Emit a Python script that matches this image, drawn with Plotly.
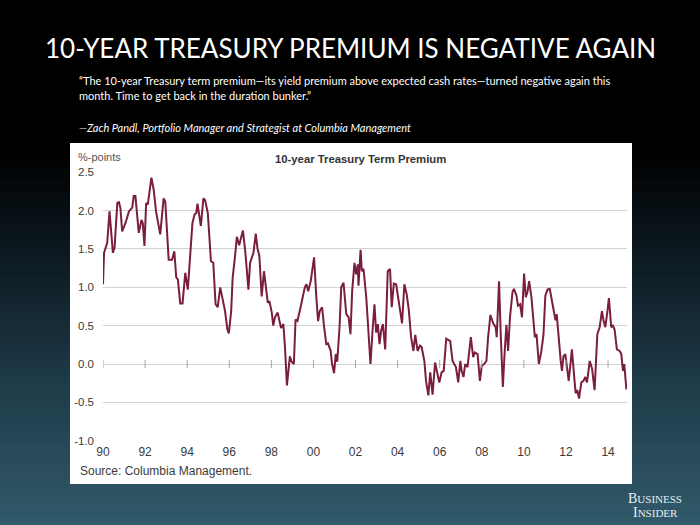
import plotly.graph_objects as go

# ---- data (decimal year, %-points) ----
years = [
    1990.00, 1990.05, 1990.20, 1990.31, 1990.47, 1990.55, 1990.68, 1990.76, 1990.83, 1990.91,
    1991.07, 1991.23, 1991.39, 1991.46, 1991.54, 1991.62, 1991.70, 1991.83, 1991.89, 1991.97,
    1992.05, 1992.13, 1992.30, 1992.41, 1992.52, 1992.72, 1992.88, 1992.96, 1993.12, 1993.28,
    1993.39, 1993.48, 1993.56, 1993.67, 1993.78, 1993.91, 1994.03, 1994.25, 1994.35, 1994.43,
    1994.49, 1994.65, 1994.77, 1994.85, 1994.98, 1995.13, 1995.24, 1995.35, 1995.45, 1995.57,
    1995.72, 1995.80, 1995.91, 1995.98,
    1996.09, 1996.16, 1996.28, 1996.36, 1996.47, 1996.65, 1996.76, 1996.91, 1996.99, 1997.15,
    1997.26, 1997.34, 1997.43, 1997.54, 1997.65, 1997.75, 1997.83, 1997.91, 1998.02, 1998.09,
    1998.17, 1998.30, 1998.38, 1998.46, 1998.57, 1998.65, 1998.74, 1998.88, 1998.96, 1999.07,
    1999.15, 1999.24, 1999.35, 1999.46, 1999.59, 1999.67, 1999.75, 1999.87, 1999.95, 2000.03,
    2000.14, 2000.22, 2000.30, 2000.41, 2000.50, 2000.61, 2000.69, 2000.82, 2000.88, 2000.98,
    2001.06, 2001.13, 2001.24, 2001.32, 2001.43, 2001.56, 2001.67, 2001.76, 2001.84, 2001.95,
    2002.03, 2002.11, 2002.14, 2002.24, 2002.30, 2002.38, 2002.51, 2002.62, 2002.71, 2002.82,
    2002.90, 2002.98, 2003.06, 2003.14, 2003.22, 2003.30, 2003.41, 2003.53, 2003.64, 2003.72,
    2003.82, 2003.93, 2004.04, 2004.13, 2004.21, 2004.32, 2004.43, 2004.53, 2004.64, 2004.75,
    2004.84, 2004.95, 2005.06, 2005.14, 2005.27, 2005.35, 2005.46, 2005.55, 2005.66, 2005.78,
    2005.90, 2005.98, 2006.09, 2006.19, 2006.31, 2006.42, 2006.50, 2006.61, 2006.69, 2006.77,
    2006.88, 2006.98, 2007.04, 2007.13, 2007.21, 2007.32, 2007.48, 2007.59, 2007.67, 2007.80,
    2007.91, 2008.00, 2008.11, 2008.22,
    2008.30, 2008.41, 2008.54, 2008.66, 2008.71, 2008.82, 2008.90, 2009.00, 2009.09, 2009.17,
    2009.25, 2009.34, 2009.46, 2009.53, 2009.65, 2009.72, 2009.82, 2009.91, 2010.01, 2010.09,
    2010.17, 2010.25, 2010.36, 2010.44, 2010.52, 2010.60, 2010.71, 2010.83, 2010.93, 2011.02,
    2011.12, 2011.23, 2011.31, 2011.42, 2011.50, 2011.56, 2011.65, 2011.75, 2011.81, 2011.88,
    2011.97, 2012.05, 2012.13, 2012.22, 2012.28, 2012.38, 2012.46, 2012.54, 2012.62, 2012.73,
    2012.83, 2012.92, 2013.00, 2013.13, 2013.24, 2013.36, 2013.49, 2013.60, 2013.71, 2013.79,
    2013.87, 2013.97, 2014.04, 2014.15, 2014.23, 2014.31, 2014.42, 2014.55, 2014.63, 2014.71,
    2014.77, 2014.87,
]
premium = [
    1.04, 1.45, 1.58, 1.99, 1.45, 1.52, 2.10, 2.11, 2.03, 1.73,
    1.84, 1.99, 2.04, 2.19, 2.19, 1.99, 1.71, 1.88, 1.84, 1.54,
    2.10, 2.08, 2.43, 2.27, 1.99, 1.69, 2.16, 2.12, 1.36, 1.36,
    1.47, 1.13, 1.10, 0.79, 0.79, 1.19, 0.97, 1.84, 1.95, 1.97,
    2.09, 1.80, 2.16, 2.14, 1.97, 1.34, 1.32, 0.78, 0.74, 1.00,
    0.82, 0.69, 0.45, 0.40,
    0.69, 1.12, 1.42, 1.66, 1.55, 1.74, 1.47, 0.97, 1.32, 1.45,
    1.70, 1.51, 1.41, 0.88, 1.21, 1.00, 0.80, 0.82, 0.67, 0.50,
    0.61, 0.67, 0.56, 0.47, 0.52, 0.21, -0.28, 0.10, 0.03, 0.00,
    0.58, 0.56, 0.69, 0.84, 1.00, 1.04, 0.95, 1.08, 1.21, 1.39,
    0.86, 0.56, 0.69, 0.74, 0.50, 0.26, 0.27, 0.17, 0.01, -0.12,
    0.13, 0.03, 0.48, 1.00, 1.06, 0.65, 0.61, 0.39, 0.95, 1.32,
    1.17, 1.30, 1.02, 1.49, 1.21, 1.24, 0.87, 0.44, 0.00, 0.48,
    0.78, 0.41, 0.52, 0.26, 0.44, 0.52, 0.19, 1.21, 1.24, 0.74,
    1.05, 1.04, 0.84, 0.69, 0.53, 1.04, 0.91, 0.71, 0.35, 0.17,
    0.38, 0.17, 0.24, 0.22, 0.04, -0.22, -0.41, -0.11, -0.40, 0.02,
    -0.13, -0.24, -0.11, -0.09, 0.33, 0.31, 0.30, 0.04, 0.00, -0.04,
    -0.24, 0.04, -0.09, -0.17, 0.00, -0.04, 0.35, 0.09, 0.15, 0.13,
    -0.22, -0.02, 0.00, 0.04,
    0.35, 0.64, 0.53, 0.48, 0.35, 1.08, 0.39, -0.30, 0.17, 0.51,
    0.17, 0.61, 0.94, 0.98, 0.89, 0.76, 0.78, 0.61, 1.18, 0.87,
    0.94, 1.08, 0.87, 0.65, 0.35, 0.39, 0.00, 0.17, 0.38, 0.89,
    0.97, 0.98, 0.87, 0.69, 0.57, 0.65, 0.32, 0.04, -0.09, 0.10,
    0.13, -0.09, -0.22, 0.02, 0.19, -0.13, -0.38, -0.34, -0.45, -0.24,
    -0.22, -0.17, -0.24, 0.04, -0.06, -0.34, 0.39, 0.48, 0.69, 0.56,
    0.48, 0.69, 0.86, 0.48, 0.50, 0.45, 0.19, 0.17, 0.13, -0.09,
    0.00, -0.33,
]
x_tick_vals = [1990, 1992, 1994, 1996, 1998, 2000, 2002, 2004, 2006, 2008, 2010, 2012, 2014]
x_tick_text = ["90", "92", "94", "96", "98", "00", "02", "04", "06", "08", "10", "12", "14"]
y_tick_vals = [-1.0, -0.5, 0.0, 0.5, 1.0, 1.5, 2.0, 2.5]
y_tick_text = ["-1.0", "-0.5", "0.0", "0.5", "1.0", "1.5", "2.0", "2.5"]

# ---- geometry helpers (pixel -> paper) ----
W, H = 700, 525
L, R, T, B = 103, 73, 172, 84
PW, PH = W - L - R, H - T - B


def fx(x):
    return (x - L) / PW


def fy(y):
    return (H - B - y) / PH


def lerp_color(stops, y):
    for (y0, c0), (y1, c1) in zip(stops, stops[1:]):
        if y0 <= y <= y1:
            t = (y - y0) / (y1 - y0)
            return "rgb(%d,%d,%d)" % tuple(round(a + (b - a) * t) for a, b in zip(c0, c1))
    return "rgb(%d,%d,%d)" % stops[-1][1]


grad_stops = [(0, (0, 0, 0)), (150, (0, 0, 0)), (250, (12, 24, 31)),
              (380, (30, 58, 72)), (525, (49, 90, 106))]

shapes = []
step = 6
for y in range(0, H, step):
    shapes.append(dict(type="rect", xref="paper", yref="paper",
                       x0=fx(0), x1=fx(W), y0=fy(y + step + 0.5), y1=fy(y),
                       fillcolor=lerp_color(grad_stops, y + step / 2),
                       line=dict(width=0), layer="below"))
# white chart panel
shapes.append(dict(type="rect", xref="paper", yref="paper",
                   x0=fx(70), x1=fx(632), y0=fy(484), y1=fy(143),
                   fillcolor="white", line=dict(width=0), layer="below"))

fig = go.Figure()
fig.add_trace(go.Scatter(x=years, y=premium, mode="lines",
                         line=dict(color="#7a1d40", width=2),
                         hoverinfo="skip", showlegend=False))
fig.add_trace(go.Scatter(x=x_tick_vals, y=[0] * len(x_tick_vals), mode="markers",
                         marker=dict(symbol="line-ns", size=6,
                                     line=dict(color="#a8a8a8", width=1)),
                         hoverinfo="skip", showlegend=False))

axis_font = dict(family="Liberation Sans, Arial, sans-serif", size=12, color="#3a3a3a")
fig.update_layout(
    width=W, height=H,
    margin=dict(l=L, r=R, t=T, b=B, pad=0),
    paper_bgcolor="black", plot_bgcolor="white",
    shapes=shapes,
    xaxis=dict(range=[1990, 2014.9], tickvals=x_tick_vals, ticktext=x_tick_text,
               showgrid=False, zeroline=False, showline=False, ticks="",
               tickfont=axis_font, fixedrange=True, ticklabelstandoff=2),
    yaxis=dict(range=[-1.004, 2.504], tickvals=y_tick_vals, ticktext=y_tick_text,
               showgrid=True, gridcolor="#d3d3d3", gridwidth=1, zeroline=False,
               showline=False, ticks="", tickfont=dict(axis_font, size=11.5),
               fixedrange=True, ticklabelstandoff=8),
    annotations=[
        dict(text="10-YEAR TREASURY PREMIUM IS NEGATIVE AGAIN", xref="paper", yref="paper",
             x=fx(350), y=fy(48), xanchor="center", yanchor="middle", showarrow=False,
             font=dict(family="Lato, Open Sans, sans-serif", size=26, color="white")),
        dict(text="\u201cThe 10-year Treasury term premium\u2014its yield premium above expected cash rates\u2014turned negative again this",
             xref="paper", yref="paper", x=fx(77), y=fy(80), xanchor="left", yanchor="middle",
             showarrow=False, font=dict(family="Lato, sans-serif", size=11, color="white")),
        dict(text="month. Time to get back in the duration bunker.\u201d",
             xref="paper", yref="paper", x=fx(77), y=fy(95), xanchor="left", yanchor="middle",
             showarrow=False, font=dict(family="Lato, sans-serif", size=11, color="white")),
        dict(text="<i>\u2014Zach Pandl, Portfolio Manager and Strategist at Columbia Management</i>",
             xref="paper", yref="paper", x=fx(77), y=fy(127), xanchor="left", yanchor="middle",
             showarrow=False, font=dict(family="Lato, sans-serif", size=11, color="white")),
        dict(text="%-points", xref="paper", yref="paper", x=fx(76), y=fy(157),
             xanchor="left", yanchor="middle", showarrow=False,
             font=dict(family="Liberation Sans, Arial, sans-serif", size=11, color="#555555")),
        dict(text="<b>10-year Treasury Term Premium</b>", xref="paper", yref="paper",
             x=fx(360), y=fy(159), xanchor="center", yanchor="middle", showarrow=False,
             font=dict(family="Liberation Sans, Arial, sans-serif", size=11.3, color="#333333")),
        dict(text="Source: Columbia Management.", xref="paper", yref="paper",
             x=fx(78), y=fy(471), xanchor="left", yanchor="middle", showarrow=False,
             font=dict(family="Liberation Sans, Arial, sans-serif", size=12, color="#3a3a3a")),
        dict(text="B<span style='font-size:11px'>USINESS</span>", xref="paper", yref="paper",
             x=fx(655), y=fy(498), xanchor="center", yanchor="middle", showarrow=False,
             font=dict(family="Liberation Serif, serif", size=14, color="#e6eef2")),
        dict(text="I<span style='font-size:11px'>NSIDER</span>", xref="paper", yref="paper",
             x=fx(655), y=fy(512), xanchor="center", yanchor="middle", showarrow=False,
             font=dict(family="Liberation Serif, serif", size=14, color="#e6eef2")),
    ],
)

fig.write_html(
    "out.html",
    config={"displayModeBar": False},
    post_script="document.body.style.margin='0';document.body.style.overflow='hidden';",
)
